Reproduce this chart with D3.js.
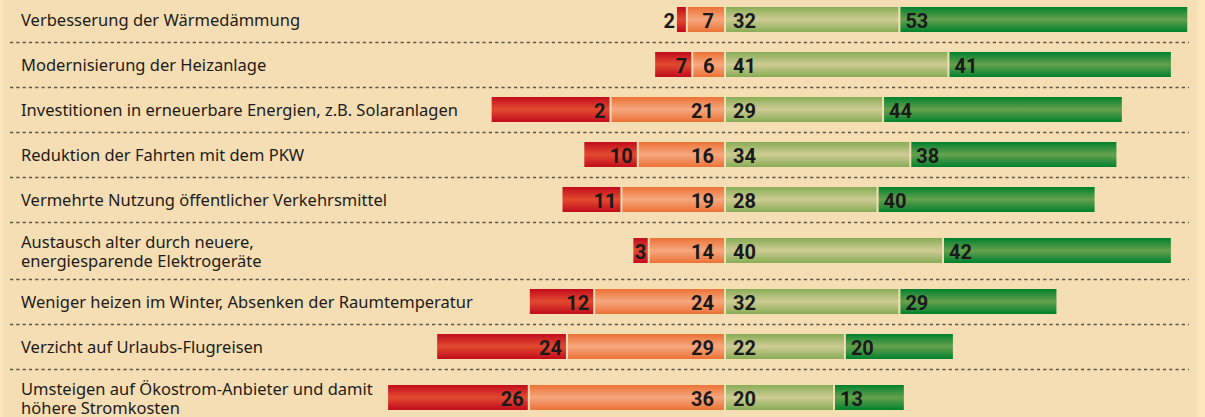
<!DOCTYPE html>
<html>
<head>
<meta charset="utf-8">
<script src="https://cdn.jsdelivr.net/npm/d3@7"></script>
<style>
  body { margin: 0; background: #f5deb3; }
  svg { display: block; }
</style>
</head>
<body>
<div id="chart-area"></div>
<script>
/*
* Klimaschutz-Massnahmen, gestapelte Balken
*/
const labels = [
	"Verbesserung der Wärmedämmung",
	"Modernisierung der Heizanlage",
	"Investitionen in erneuerbare Energien, z.B. Solaranlagen",
	"Reduktion der Fahrten mit dem PKW",
	"Vermehrte Nutzung öffentlicher Verkehrsmittel",
	"Austausch alter durch neuere,\nenergiesparende Elektrogeräte",
	"Weniger heizen im Winter, Absenken der Raumtemperatur",
	"Verzicht auf Urlaubs-Flugreisen",
	"Umsteigen auf Ökostrom-Anbieter und damit\nhöhere Stromkosten"
]

// bar lengths as drawn
const redValues = [2, 7, 22, 10, 11, 3, 12, 24, 26]
const orangeValues = [7, 6, 21, 16, 19, 14, 24, 29, 36]
const lightGreenValues = [32, 41, 29, 34, 28, 40, 32, 22, 20]
const darkGreenValues = [53, 41, 44, 38, 40, 42, 29, 20, 13]

// numbers as printed (row 3 is printed "2" in the original)
const redText = ["2", "7", "2", "10", "11", "3", "12", "24", "26"]

const W = 1205, H = 417
const center = 725
const unit = 5.45

const svg = d3.select("#chart-area")
	.append("svg")
		.attr("width", W)
		.attr("height", H)

// light strips on the edges
svg.append("rect").attr("x", 0).attr("y", 0).attr("width", W).attr("height", H).attr("fill", "#fce4bb")
svg.append("rect").attr("x", 3).attr("y", 0).attr("width", 1194).attr("height", H).attr("fill", "#f5deb3")

const defs = svg.append("defs")
const grads = {
	red: ["#c20c1c", "#e24a30"],
	orange: ["#ec7236", "#f6a77e"],
	lgreen: ["#88ad55", "#cdcb93"],
	dgreen: ["#00822e", "#66a04d"]
}
Object.keys(grads).forEach(k => {
	let lg = defs.append("linearGradient")
		.attr("id", "g-" + k)
		.attr("x1", 0).attr("y1", 0).attr("x2", 0).attr("y2", 1)
	lg.append("stop").attr("offset", 0).attr("stop-color", grads[k][0])
	lg.append("stop").attr("offset", 0.5).attr("stop-color", grads[k][1])
	lg.append("stop").attr("offset", 1).attr("stop-color", grads[k][0])
})

// x scale, 0 = between disagree and agree
const x = d3.scaleLinear()
	.domain([-70, 90])
	.range([center - 70 * unit, center + 90 * unit])

// row layout: two-line labels get taller rows
let rows = []
let rowTop = -3
labels.forEach((l, i) => {
	let lines = l.split("\n")
	let pad = lines.length > 1 ? 16 : 10
	let barY = rowTop + pad
	rowTop = barY + 25 + pad
	rows.push({ i, lines, barY, bottom: rowTop })
})

const barH = 25
const g = svg.append("g")

// dashed separators
rows.slice(0, rows.length - 1).forEach(r => {
	g.append("line")
		.attr("x1", 10).attr("x2", 1189)
		.attr("y1", r.bottom + 0.5).attr("y2", r.bottom + 0.5)
		.attr("stroke", "#5e544a")
		.attr("stroke-width", 1.3)
		.attr("stroke-dasharray", "3.2,3.1")
})

// labels
rows.forEach(r => {
	let cy = r.barY + barH / 2
	let t = g.append("text")
		.attr("x", 21)
		.attr("font-family", "'Noto Sans', sans-serif")
		.attr("font-size", "16.5px")
		.attr("fill", "#1e1b18")
	if (r.lines.length === 1) {
		t.attr("y", cy + 6).text(r.lines[0])
	} else {
		r.lines.forEach((ln, j) => {
			t.append("tspan").attr("x", 21).attr("y", cy - 3 + j * 19).text(ln)
		})
	}
})

// segments
rows.forEach(r => {
	let i = r.i
	let segs = [
		{ k: "red", a: -(redValues[i] + orangeValues[i]), b: -orangeValues[i], txt: redText[i], side: "neg", pad: 4 },
		{ k: "orange", a: -orangeValues[i], b: 0, txt: String(orangeValues[i]), side: "neg", pad: 10 },
		{ k: "lgreen", a: 0, b: lightGreenValues[i], txt: String(lightGreenValues[i]), side: "pos", pad: 7 },
		{ k: "dgreen", a: lightGreenValues[i], b: lightGreenValues[i] + darkGreenValues[i], txt: String(darkGreenValues[i]), side: "pos", pad: 5 }
	]
	segs.forEach(s => {
		let x0 = x(s.a) + 1, x1 = x(s.b) - 1
		g.append("rect")
			.attr("x", x0)
			.attr("y", r.barY)
			.attr("width", x1 - x0)
			.attr("height", barH)
			.attr("fill", `url(#g-${s.k})`)

		let label = g.append("text")
			.attr("y", r.barY + 20.5)
			.attr("font-family", "Roboto, sans-serif")
			.attr("font-weight", 700)
			.attr("font-size", "20px")
			.attr("fill", "#1a1a1a")
			.text(s.txt)
		let tw = label.node().getComputedTextLength()
		let w = x1 - x0
		if (s.side === "neg") {
			if (w < tw) {
				// too narrow: number sits left of the bar
				label.attr("x", x0 - 2).attr("text-anchor", "end")
			} else {
				let p = Math.min(s.pad, (w - tw) / 2)
				label.attr("x", x1 - p).attr("text-anchor", "end")
			}
		} else {
			label.attr("x", x0 + s.pad).attr("text-anchor", "start")
		}
	})
})
</script>
</body>
</html>
